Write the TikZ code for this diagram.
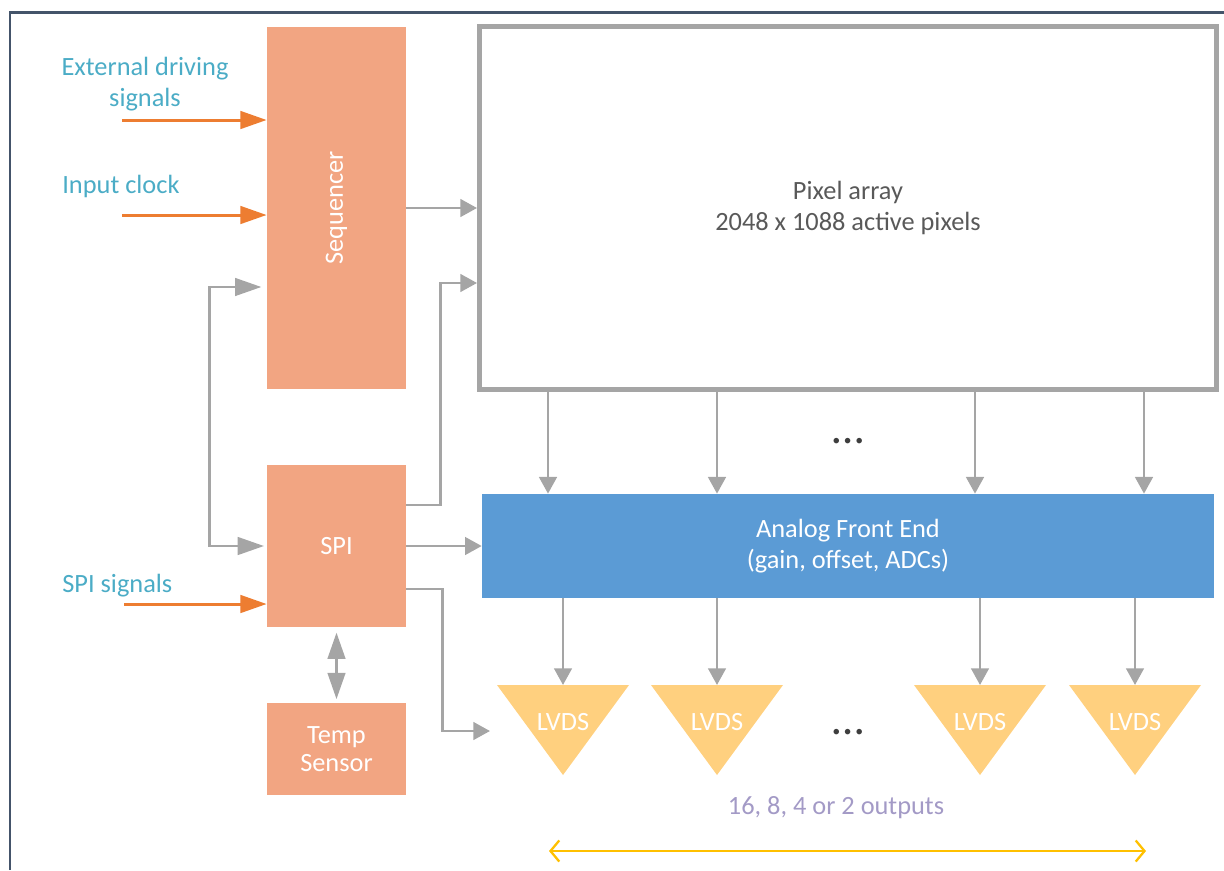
\documentclass[tikz,border=0pt]{standalone}
\usepackage{fontspec}
\setmainfont{Carlito}
\usetikzlibrary{arrows.meta, positioning}
\definecolor{salmon}{HTML}{F2A582}
\definecolor{afeblue}{HTML}{5B9BD5}
\definecolor{lvdsyel}{HTML}{FFD07F}
\definecolor{lgray}{HTML}{A5A5A5}
\definecolor{sigorange}{HTML}{ED7D31}
\definecolor{sigteal}{HTML}{4BACC6}
\definecolor{framecol}{HTML}{44546A}
\definecolor{txtgray}{HTML}{595959}
\definecolor{outlav}{HTML}{A39AC6}
\definecolor{spangold}{HTML}{FFC000}
\tikzset{
    bigtip/.tip = {Triangle[length=15pt,width=10pt]},
    bartip/.tip = {Straight Barb[length=5pt,width=12pt]}
}

\begin{document}
\begin{tikzpicture}[
            x = 0.02cm, y = -0.02cm, % one unit = one pixel of the sketch
            > = {Triangle[length=9.5pt,width=10pt]}, % short arrow head
            font = \fontsize{15pt}{18pt}\selectfont,
            inner sep = 0pt
        ]

        \tikzstyle{blk}=[
            fill = salmon,
            minimum width = 2.78cm,
            text = white,
            align = center
        ]
        \tikzstyle{gl}=[draw = lgray, line width = 1.6pt]
        \tikzstyle{sig}=[draw = sigorange, line width = 1.7pt, -bigtip]
        \tikzstyle{sigtxt}=[text = sigteal, align = center]
        \tikzstyle{dots}=[text = txtgray!70!black, font = \fontsize{26pt}{26pt}\selectfont]

        \useasboundingbox (0,0) rectangle (1224,870);
        \draw[framecol, line width = 1.7pt] (10,870) -- (10,12) -- (1224,12);

        % blocks
        \node[blk, minimum height = 7.24cm] (seq) at (336.5,208) {\rotatebox{90}{Sequencer}};
        \node[blk, minimum height = 3.24cm] (spi) at (336.5,546) {SPI};
        \node[blk, minimum height = 1.84cm] (temp) at (336.5,749) {Temp\\[-2pt]Sensor};
        \node[draw = lgray, line width = 2.6pt, minimum width = 14.75cm,
            minimum height = 7.26cm, text = txtgray, align = center]
            (pix) at (848,208) {Pixel array\\2048 x 1088 active pixels};
        \node[fill = afeblue, minimum width = 14.64cm, minimum height = 2.08cm,
            text = white, align = center]
            (afe) at (848,546) {Analog Front End\\(gain, offset, ADCs)};

	\foreach \x [count=\i] in {563,717,980,1135} {
	    \fill[lvdsyel] (\x-66,685) -- (\x+66,685) -- (\x,775) -- cycle;
	    \node[text = white] (lv\i) at (\x,722) {LVDS};
	    \coordinate (lvt\i) at (\x,685);
	}

        % input signals
        \node[sigtxt] (exttxt) at (145,84) {External driving\\signals};
        \node[sigtxt, anchor = west] (clktxt) at (62,186) {Input clock};
        \node[sigtxt, anchor = west] (spitxt) at (62,586) {SPI signals};
        \coordinate (ext) at (122,120);
        \coordinate (clk) at (122,215);
        \coordinate (spis) at (124,604);
	\draw[sig] (ext) -- (ext -| seq.west);
	\draw[sig] (clk) -- (clk -| seq.west);
	\draw[sig] (spis) -- (spis -| spi.west);

        % internal connections
	\draw[gl, ->] (seq.east) -- (pix.west);
	\draw[gl, ->] (spi.east) -- (spi.east -| afe.west);
	\draw[gl, ->] ([yshift=0.82cm]spi.east) -- ++(34,0) |- ([yshift=-1.5cm]pix.west);
        \coordinate (lvin) at (490,731);
	\draw[gl, ->] ([yshift=-0.86cm]spi.east) -- ++(36,0) |- (lvin);
	\draw[gl, bigtip-bigtip, shorten <= 3pt] ([yshift=-1.58cm]seq.west) -- ++(-57,0) |- ([xshift=-1.5pt]spi.west);
	\draw[gl, bigtip-bigtip, shorten <= 3pt, shorten >= 2pt] (spi.south) -- (temp.north);

	\foreach \x in {548,717,975,1144}
	    \draw[gl, ->] (pix.south -| \x,0) -- (afe.north -| \x,0);
	\foreach \i in {1,...,4}
	    \draw[gl, ->] (afe.south -| lvt\i) -- (lvt\i);

        \node[dots] (dotsa) at (848,441) {\ldots};
        \node[dots] (dotsb) at (848,732) {\ldots};

        % output span
        \node[text = outlav] (outtxt) at (836,808) {16, 8, 4 or 2 outputs};
        \coordinate (spana) at (549,851);
        \coordinate (spanb) at (1146,851);
	\draw[spangold, line width = 1.3pt, bartip-bartip] (spana) -- (spanb);
    \end{tikzpicture}
\end{document}
